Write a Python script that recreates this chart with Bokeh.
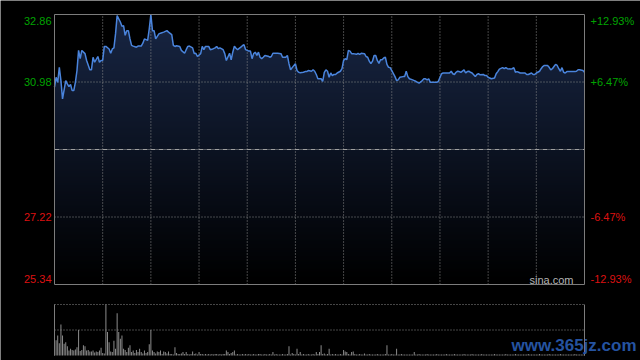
import numpy as np
from bokeh.plotting import figure
from bokeh.models import Range1d, ColumnDataSource
from bokeh.core.properties import value
from bokeh.embed import file_html
from bokeh.resources import INLINE

# ---------------- data ----------------
prev_close = 29.10
price_ticks = [25.34, 27.22, 30.98, 32.86]
left_labels = ["25.34", "27.22", "30.98", "32.86"]
right_labels = ["-12.93%", "-6.47%", "+6.47%", "+12.93%"]
session_minutes = 330
grid_minutes = [30, 60, 90, 120, 150, 180, 210, 240, 270, 300]

minutes = [
    0, 1, 2, 3, 4, 5, 7, 8, 9, 10, 11, 12, 13, 14, 15, 16, 17, 19, 20, 22,
    23, 24, 25, 27, 28, 29, 30, 31, 32, 34, 35, 36, 37, 38, 39, 41, 42, 43, 44, 45,
    46, 47, 48, 49, 51, 52, 54, 55, 56, 58, 59, 60, 61, 62, 63, 64, 65, 66, 68, 69,
    70, 71, 73, 74, 75, 76, 78, 79, 81, 82, 83, 84, 86, 87, 88, 89, 91, 92, 93, 94,
    96, 97, 98, 99, 100, 101, 102, 103, 105, 106, 107, 109, 110, 111, 112, 113, 114, 116, 117, 118,
    119, 121, 122, 123, 124, 125, 126, 127, 128, 129, 130, 131, 133, 134, 135, 136, 138, 139, 141, 142,
    144, 145, 146, 147, 148, 150, 151, 152, 153, 155, 156, 157, 158, 160, 161, 162, 163, 164, 165, 166,
    167, 168, 169, 170, 171, 172, 173, 174, 175, 176, 178, 179, 180, 181, 182, 183, 184, 185, 186, 188,
    189, 190, 191, 193, 194, 195, 196, 197, 198, 199, 200, 201, 202, 203, 204, 205, 206, 207, 208, 209,
    210, 212, 213, 214, 215, 217, 218, 219, 220, 221, 223, 224, 225, 226, 227, 229, 230, 231, 232, 233,
    234, 235, 237, 238, 239, 241, 242, 243, 244, 246, 247, 248, 249, 250, 251, 252, 253, 255, 256, 257,
    258, 259, 260, 262, 263, 264, 265, 267, 268, 269, 270, 271, 272, 274, 275, 276, 277, 279, 280, 281,
    282, 284, 285, 286, 287, 288, 289, 290, 292, 293, 294, 295, 297, 298, 299, 300, 302, 303, 304, 305,
    307, 308, 309, 310, 311, 312, 313, 314, 315, 316, 317, 318, 319, 320, 321, 322, 324, 325, 326, 327,
    329, 330,
]
prices = [
    30.84, 31.11, 30.97, 31.39, 31.02, 30.51, 31.02, 30.93, 30.85, 30.91, 30.74, 30.74, 30.97, 31.30, 31.86, 31.63, 31.86, 31.77, 31.58, 31.32,
    31.32, 31.67, 31.53, 31.69, 31.53, 31.58, 31.58, 31.97, 31.97, 31.90, 31.78, 31.90, 31.93, 32.32, 32.83, 32.65, 32.53, 32.55, 32.28, 32.41,
    32.41, 32.18, 32.00, 31.98, 31.95, 31.98, 31.98, 32.06, 32.18, 32.14, 32.46, 32.86, 32.41, 32.41, 32.18, 32.25, 32.32, 32.34, 32.37, 32.39,
    32.41, 32.37, 32.30, 32.00, 31.97, 31.99, 31.97, 31.86, 31.78, 31.88, 31.97, 31.98, 31.93, 31.77, 31.78, 31.69, 31.77, 31.97, 31.88, 31.97,
    31.97, 31.88, 31.89, 31.91, 31.93, 31.97, 31.91, 31.93, 31.88, 31.77, 31.58, 31.78, 31.60, 31.81, 31.98, 31.92, 31.88, 31.95, 31.99, 32.02,
    31.88, 31.84, 31.84, 31.63, 31.77, 31.81, 31.72, 31.81, 31.67, 31.63, 31.67, 31.72, 31.70, 31.67, 31.69, 31.78, 31.78, 31.78, 31.77, 31.67,
    31.67, 31.72, 31.49, 31.32, 31.38, 31.49, 31.30, 31.25, 31.24, 31.25, 31.27, 31.27, 31.30, 31.28, 31.32, 31.28, 31.19, 31.07, 31.07, 31.07,
    31.00, 31.25, 31.32, 31.28, 31.11, 31.23, 31.16, 31.19, 31.19, 31.23, 31.28, 31.35, 31.58, 31.63, 31.60, 31.86, 31.84, 31.77, 31.77, 31.75,
    31.78, 31.75, 31.78, 31.77, 31.69, 31.67, 31.56, 31.49, 31.56, 31.72, 31.72, 31.58, 31.50, 31.60, 31.60, 31.65, 31.67, 31.47, 31.39, 31.38,
    31.30, 31.13, 31.02, 31.04, 31.11, 31.13, 31.13, 31.28, 31.13, 31.07, 31.04, 31.02, 31.00, 30.97, 30.95, 31.02, 31.07, 31.07, 31.04, 31.07,
    30.97, 30.97, 30.97, 30.97, 31.00, 31.21, 31.23, 31.23, 31.23, 31.23, 31.28, 31.21, 31.19, 31.25, 31.28, 31.27, 31.25, 31.32, 31.23, 31.27,
    31.28, 31.25, 31.23, 31.13, 31.19, 31.21, 31.18, 31.19, 31.16, 31.16, 31.11, 31.09, 31.07, 31.09, 31.21, 31.27, 31.34, 31.38, 31.35, 31.38,
    31.35, 31.34, 31.35, 31.38, 31.25, 31.27, 31.25, 31.23, 31.23, 31.23, 31.19, 31.19, 31.23, 31.19, 31.19, 31.23, 31.28, 31.35, 31.41, 31.44,
    31.44, 31.39, 31.32, 31.35, 31.41, 31.47, 31.44, 31.35, 31.28, 31.38, 31.25, 31.23, 31.27, 31.27, 31.27, 31.27, 31.27, 31.28, 31.32, 31.32,
    31.30, 31.25,
]
volume = [
    61, 30, 39, 24, 61, 39, 23, 26, 18, 10,
    13, 11, 10, 12, 16, 50, 9, 11, 20, 18,
    10, 11, 8, 8, 10, 6, 8, 7, 10, 15,
    5, 4, 100, 46, 26, 8, 7, 29, 13, 83,
    46, 33, 39, 13, 11, 7, 15, 20, 7, 10,
    5, 11, 7, 13, 7, 4, 10, 5, 7, 22,
    50, 10, 7, 4, 8, 7, 10, 3, 8, 7,
    4, 8, 3, 3, 2, 16, 5, 3, 3, 4,
    7, 3, 7, 3, 2, 3, 8, 3, 4, 2,
    7, 3, 3, 2, 3, 2, 3, 2, 3, 2,
    3, 3, 2, 3, 2, 3, 3, 10, 7, 3,
    5, 7, 10, 2, 3, 2, 2, 3, 2, 3,
    2, 3, 2, 2, 3, 2, 2, 3, 3, 2,
    2, 3, 2, 2, 3, 2, 7, 2, 3, 2,
    2, 2, 3, 2, 2, 3, 18, 2, 5, 3,
    2, 13, 3, 7, 2, 3, 2, 2, 3, 2,
    2, 3, 2, 7, 3, 7, 20, 3, 4, 2,
    3, 13, 2, 3, 2, 3, 2, 2, 3, 2,
    11, 8, 7, 3, 2, 7, 8, 3, 2, 2,
    3, 2, 2, 4, 2, 2, 3, 2, 2, 2,
    2, 3, 2, 2, 2, 2, 3, 20, 2, 2,
    3, 2, 2, 13, 2, 2, 3, 2, 2, 2,
    2, 2, 2, 2, 7, 2, 2, 3, 2, 2,
    2, 2, 3, 2, 2, 2, 2, 2, 3, 2,
    2, 2, 2, 2, 3, 2, 2, 2, 2, 3,
    2, 2, 2, 2, 2, 3, 2, 2, 2, 2,
    3, 2, 2, 2, 2, 2, 3, 2, 2, 2,
    2, 2, 2, 2, 3, 2, 2, 2, 2, 2,
    2, 3, 2, 2, 2, 2, 2, 3, 2, 2,
    2, 2, 2, 2, 2, 3, 2, 2, 2, 2,
    2, 2, 3, 2, 2, 2, 2, 2, 3, 2,
    2, 2, 2, 2, 2, 3, 2, 2, 2, 2,
    2, 2, 2, 2, 3, 2, 2, 2, 2, 2,
    3,
]
vol_minutes = list(range(len(volume)))

# ---------------- style / layout ----------------
W, H = 640, 360
PLOT_L, PLOT_R = 54, 584          # panel left/right edges (px)
P_TOP, P_BOT = 14, 284            # price panel top/bottom (px)
V_TOP, V_BOT = 304, 355           # volume panel top/bottom (px)
BG = "#000000"
BORDER = "#7c7c7c"
GRID = "#8a8a8a"
GREEN = "#00a400"
RED = "#dd1111"
LINE = "#4a84dc"
FONT = "Liberation Sans"

y_lo, y_hi = min(price_ticks), max(price_ticks)
v_hi = max(volume)

px_per_min = (PLOT_R - PLOT_L) / session_minutes
x_start = -PLOT_L / px_per_min
x_end = session_minutes + (W - PLOT_R) / px_per_min
price_per_px = (y_hi - y_lo) / (P_BOT - P_TOP)
y_start = y_lo - (H - P_BOT) * price_per_px
y_end = y_hi + P_TOP * price_per_px
vol_per_px = v_hi / (V_BOT - V_TOP)
vol_start = -(H - V_BOT) * vol_per_px
vol_end = v_hi + V_TOP * vol_per_px

p = figure(width=W, height=H,
           x_range=Range1d(x_start, x_end), y_range=Range1d(y_start, y_end),
           x_axis_location=None, y_axis_location=None,
           toolbar_location=None, output_backend="svg",
           min_border=0, background_fill_color=BG, border_fill_color=BG,
           outline_line_color=None)
p.grid.visible = False
p.extra_y_ranges = {"vol": Range1d(vol_start, vol_end)}

# gradient under the price line
n = 256
frac = np.linspace(0.0, 1.0, n)
rgba = np.zeros((n, 1, 4), dtype=np.uint8)
rgba[:, 0, 0] = (24 * frac).astype(np.uint8)
rgba[:, 0, 1] = (38 * frac).astype(np.uint8)
rgba[:, 0, 2] = (68 * frac).astype(np.uint8)
rgba[:, 0, 3] = 255
img = rgba.view(dtype=np.uint32).reshape((n, 1))
p.image_rgba(image=[img], x=0, y=y_lo, dw=session_minutes, dh=y_hi - y_lo)

# mask above the price line
p.varea(x=minutes, y1=prices, y2=y_hi, fill_color=BG)

# price grid
nv = len(grid_minutes)
p.segment(x0=grid_minutes, x1=grid_minutes, y0=[y_lo] * nv, y1=[y_hi] * nv,
          line_color=GRID, line_dash="1 2", line_width=1)
mid_ticks = [t for t in price_ticks if y_lo < t < y_hi]
p.segment(x0=[0] * len(mid_ticks), x1=[session_minutes] * len(mid_ticks),
          y0=mid_ticks, y1=mid_ticks, line_color=GRID, line_dash="1 2", line_width=1)
p.segment(x0=[0], x1=[session_minutes], y0=[prev_close], y1=[prev_close],
          line_color="#a0a0a0", line_dash="5 1 1 1", line_width=1)

# price line
p.line(minutes, prices, line_color=LINE, line_width=1.5)

# price panel border
p.quad(left=[0], right=[session_minutes], bottom=[y_lo], top=[y_hi],
       fill_color=None, line_color=BORDER, line_width=1)

# axis labels
lab_src = ColumnDataSource(dict(
    y=price_ticks, left=left_labels, right=right_labels,
    label_color=[RED if v < prev_close else GREEN for v in price_ticks],
    dy=[-6 if v == y_lo else (6 if v == y_hi else 0) for v in price_ticks],
    xl=[0] * len(price_ticks), xr=[session_minutes] * len(price_ticks),
))
p.text(x="xl", y="y", text="left", source=lab_src, text_color="label_color",
       y_offset="dy", x_offset=-3, text_align="right", text_baseline="middle",
       text_font=value(FONT), text_font_size="11px")
p.text(x="xr", y="y", text="right", source=lab_src, text_color="label_color",
       y_offset="dy", x_offset=6, text_align="left", text_baseline="middle",
       text_font=value(FONT), text_font_size="11px")
p.text(x=[session_minutes], y=[y_lo], text=["sina.com"], x_offset=-11, y_offset=-5,
       text_align="right", text_baseline="middle", text_color="#b4b4b4",
       text_font=value(FONT), text_font_size="11px")

# ---------------- volume panel ----------------
p.segment(x0=[0, 0], x1=[session_minutes, session_minutes], y0=[v_hi / 2, v_hi],
          y1=[v_hi / 2, v_hi], line_color=GRID, line_dash="1 2", line_width=1,
          y_range_name="vol")
p.vbar(x=vol_minutes, top=volume, width=0.62, bottom=0,
       fill_color="#8c8c8c", line_color=None, y_range_name="vol")
p.segment(x0=[0, session_minutes], x1=[0, session_minutes], y0=[0, 0], y1=[v_hi, v_hi],
          line_color=BORDER, line_width=1, y_range_name="vol")
p.text(x=[session_minutes], y=[0], text=["www.365jz.com"], x_offset=52, y_offset=-1,
       text_align="right", text_baseline="bottom", text_color="#2553a0",
       text_font=value(FONT), text_font_style="bold", text_font_size="17px",
       y_range_name="vol")

open("out.html", "w").write(file_html(p, INLINE))
